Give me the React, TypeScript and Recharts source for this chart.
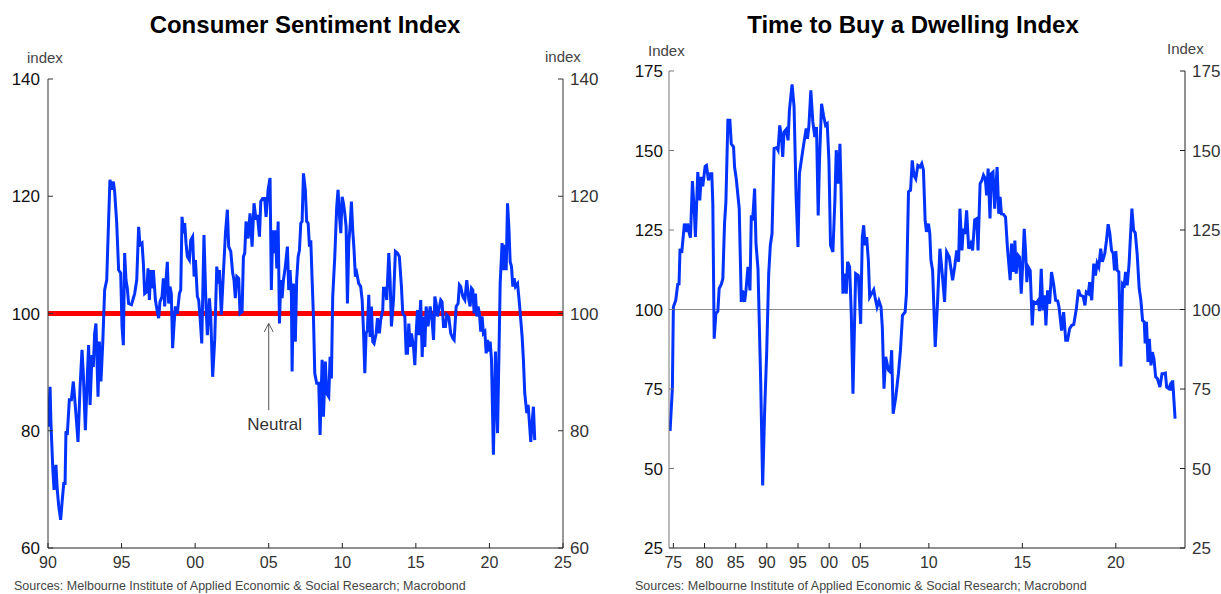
import React from 'react';
import { LineChart, Line, XAxis, YAxis, ReferenceLine } from 'recharts';

const FONT = '"Liberation Sans", Arial, Helvetica, sans-serif';
const BLUE = '#0033ff';

// Consumer sentiment index, [year, index]
const sentiment: [number, number][] = [
  [1990.02, 80.7], [1990.14, 87.5], [1990.2, 81.3], [1990.32, 73.9], [1990.41, 69.9], [1990.54, 74.2],
  [1990.63, 69.9], [1990.73, 67.1], [1990.86, 64.8], [1990.97, 68.2], [1991.07, 71], [1991.16, 71],
  [1991.22, 79.9], [1991.31, 79.3], [1991.45, 85.3], [1991.59, 85.3], [1991.72, 88.4], [1991.86, 84.1],
  [1992.04, 78.1], [1992.18, 87.5], [1992.31, 93.8], [1992.4, 89.8], [1992.54, 80.1], [1992.67, 89.2],
  [1992.76, 94.6], [1992.86, 84.4], [1992.99, 92.9], [1993.08, 90.9], [1993.17, 96.6], [1993.26, 98.3],
  [1993.4, 85.8], [1993.49, 95.2], [1993.6, 88.4], [1993.72, 94.9], [1993.85, 104], [1993.99, 105.7],
  [1994.12, 116], [1994.21, 122.8], [1994.33, 121.1], [1994.44, 122.5], [1994.53, 120.8], [1994.67, 115.4],
  [1994.8, 107.4], [1994.94, 106.9], [1995.03, 97.8], [1995.12, 94.6], [1995.21, 110.3], [1995.3, 105.7],
  [1995.39, 104.3], [1995.48, 101.7], [1995.67, 101.5], [1995.8, 102.6], [1995.89, 103.4], [1996.03, 105.7],
  [1996.16, 114.8], [1996.25, 111.7], [1996.39, 112], [1996.48, 108.6], [1996.57, 103.4], [1996.71, 103.7],
  [1996.8, 107.7], [1996.89, 102.3], [1996.98, 107.4], [1997.07, 104.3], [1997.16, 107.4], [1997.3, 102.3],
  [1997.43, 100.3], [1997.52, 99.2], [1997.61, 102], [1997.75, 102.9], [1997.84, 106], [1997.93, 101.2],
  [1998.02, 105.7], [1998.11, 108.8], [1998.2, 101.7], [1998.29, 104.6], [1998.38, 103.4], [1998.47, 94.1],
  [1998.57, 98.3], [1998.66, 101.2], [1998.79, 100], [1998.93, 103.4], [1999.02, 104], [1999.11, 116.5],
  [1999.2, 113.7], [1999.29, 115.4], [1999.38, 112], [1999.47, 109.7], [1999.61, 109.1], [1999.7, 112.5],
  [1999.83, 113.1], [1999.93, 106.3], [2000.02, 109.1], [2000.15, 102.9], [2000.24, 102.3], [2000.33, 99.5],
  [2000.45, 94.9], [2000.6, 113.4], [2000.74, 101.2], [2000.83, 96.3], [2000.97, 102.6], [2001.06, 99.4],
  [2001.19, 89.2], [2001.33, 95.5], [2001.47, 108], [2001.56, 105.1], [2001.65, 107.4], [2001.78, 99.8],
  [2001.92, 106.9], [2002.06, 113.7], [2002.19, 117.7], [2002.28, 111.4], [2002.42, 110.6], [2002.55, 106.9],
  [2002.64, 105.7], [2002.73, 102.6], [2002.83, 106.3], [2002.96, 106], [2003.05, 100], [2003.19, 100.3],
  [2003.28, 109.7], [2003.37, 110.3], [2003.46, 115.7], [2003.6, 112.8], [2003.73, 117.1], [2003.87, 111.4],
  [2004.0, 118.8], [2004.14, 116], [2004.23, 116.8], [2004.37, 113.1], [2004.46, 119.1], [2004.59, 119.6],
  [2004.73, 119.6], [2004.82, 116.5], [2004.96, 121.1], [2005.09, 123.1], [2005.18, 104], [2005.27, 114.2],
  [2005.36, 110.3], [2005.45, 114.2], [2005.55, 107.7], [2005.64, 115.7], [2005.73, 98.3], [2005.82, 105.7],
  [2005.91, 102.6], [2006.0, 105.7], [2006.13, 108], [2006.27, 111.4], [2006.36, 104], [2006.45, 107.4],
  [2006.54, 103.4], [2006.59, 90.1], [2006.68, 105.1], [2006.81, 95.2], [2006.9, 105.7], [2007.0, 109.7],
  [2007.09, 110.8], [2007.18, 115.4], [2007.27, 115.7], [2007.36, 123.9], [2007.49, 121.1], [2007.58, 115.7],
  [2007.68, 115.4], [2007.77, 111.4], [2007.86, 112.5], [2007.95, 105.7], [2008.04, 99.5], [2008.13, 89.8],
  [2008.26, 88.1], [2008.4, 88.1], [2008.49, 79.3], [2008.63, 92.1], [2008.72, 82.4], [2008.85, 91.8],
  [2008.94, 86.4], [2009.08, 85.8], [2009.17, 92.6], [2009.26, 88.9], [2009.35, 102.9], [2009.49, 109.7],
  [2009.62, 118.2], [2009.71, 121.1], [2009.81, 116.5], [2009.9, 113.7], [2009.99, 119.9], [2010.08, 118.8],
  [2010.17, 117.1], [2010.26, 114.8], [2010.35, 101.7], [2010.44, 112], [2010.53, 114.8], [2010.62, 119.1],
  [2010.71, 114.2], [2010.8, 110.8], [2010.89, 106.3], [2010.98, 106.9], [2011.12, 105.1], [2011.25, 104.6],
  [2011.35, 102.3], [2011.44, 97.2], [2011.53, 89.8], [2011.62, 96.6], [2011.71, 97.2], [2011.8, 103.2],
  [2011.89, 96], [2011.98, 101.2], [2012.07, 95.2], [2012.16, 94.9], [2012.3, 96.6], [2012.39, 99.2],
  [2012.52, 96.6], [2012.61, 98.9], [2012.75, 100.6], [2012.8, 104.3], [2012.93, 104.3], [2013.02, 102.3],
  [2013.16, 110.3], [2013.25, 105.7], [2013.34, 97.8], [2013.48, 102.3], [2013.61, 110.6], [2013.75, 110.3],
  [2013.88, 109.7], [2014.02, 104.6], [2014.11, 100], [2014.25, 99.5], [2014.34, 93.2], [2014.43, 93.2],
  [2014.52, 98.3], [2014.61, 94.3], [2014.7, 96.6], [2014.84, 94.3], [2014.93, 91.2], [2015.02, 96.6],
  [2015.11, 100.6], [2015.2, 96.3], [2015.33, 102.3], [2015.43, 92.6], [2015.52, 99.5], [2015.61, 94.3],
  [2015.7, 101.2], [2015.83, 97.8], [2015.97, 101.2], [2016.1, 98.9], [2016.2, 95.5], [2016.29, 102.9],
  [2016.38, 101.7], [2016.47, 99.5], [2016.56, 100.6], [2016.69, 102.3], [2016.78, 102], [2016.88, 97.8],
  [2017.01, 97.8], [2017.1, 99.8], [2017.24, 99.4], [2017.37, 96.6], [2017.51, 95.8], [2017.6, 95.5],
  [2017.74, 101.2], [2017.87, 101.7], [2017.96, 104.9], [2018.05, 104.6], [2018.19, 102.9], [2018.33, 102.3],
  [2018.46, 105.7], [2018.6, 102.3], [2018.69, 101.2], [2018.78, 104.3], [2018.87, 104], [2018.96, 100],
  [2019.05, 103.4], [2019.14, 99.5], [2019.23, 101.2], [2019.32, 100], [2019.41, 96.9], [2019.5, 99.5],
  [2019.59, 96.6], [2019.69, 96.9], [2019.78, 93.2], [2019.87, 95.5], [2019.96, 93.5], [2020.05, 95.2],
  [2020.14, 92.1], [2020.27, 75.9], [2020.41, 93.5], [2020.55, 79.6], [2020.64, 92.1], [2020.73, 105.1],
  [2020.86, 112], [2020.95, 107.4], [2021.05, 111.7], [2021.14, 107.4], [2021.23, 118.8], [2021.32, 114.8],
  [2021.41, 108.8], [2021.5, 108], [2021.59, 104.6], [2021.68, 106], [2021.77, 104.6], [2021.91, 105.1],
  [2022.04, 101.7], [2022.13, 98.9], [2022.22, 96.1], [2022.31, 92.1], [2022.4, 86.4], [2022.54, 83],
  [2022.63, 84.4], [2022.72, 81.3], [2022.81, 78.1], [2022.9, 81.3], [2022.99, 84.1], [2023.08, 78.4],
];

const sentimentYears = [1990, 1995, 2000, 2005, 2010, 2015, 2020, 2025];
const sentimentTicks = [60, 80, 100, 120, 140];
const NEUTRAL = 100;

// Time to buy a dwelling, [year, index]; quarterly to end-2006, monthly after
const dwelling: [number, number][] = [
  [1974.47, 61.8], [1974.84, 75.1], [1975.0, 100.8], [1975.38, 102.9], [1975.7, 107.9], [1975.91, 108],
  [1976.07, 119.1], [1976.34, 117.8], [1976.77, 127], [1977.04, 124.4], [1977.26, 127], [1977.58, 123.8],
  [1977.74, 122.6], [1978.06, 140.4], [1978.38, 130.1], [1978.54, 122.8], [1978.92, 143.2], [1979.24, 134.3],
  [1979.46, 141.7], [1979.72, 138.7], [1980.1, 145], [1980.31, 145.3], [1980.64, 140.6], [1980.96, 142.7],
  [1981.17, 142.7], [1981.33, 133.3], [1981.55, 90.8], [1981.82, 98.7], [1982.14, 99.5], [1982.35, 106.6],
  [1982.68, 107.9], [1982.94, 109.7], [1983.21, 127], [1983.43, 133.8], [1983.75, 159.5], [1984.07, 159.5],
  [1984.29, 152.1], [1984.66, 151.1], [1984.82, 144.8], [1985.09, 141.1], [1985.57, 131.7], [1985.9, 102.4],
  [1986.11, 106], [1986.43, 102.4], [1986.65, 106], [1986.97, 113.4], [1987.29, 106], [1987.51, 129.6],
  [1987.72, 128], [1988.04, 138], [1988.26, 120.7], [1988.58, 112.8], [1989.01, 77.7], [1989.33, 44.7],
  [1989.65, 68.3], [1989.97, 86.1], [1990.3, 111.3], [1990.56, 120.2], [1990.83, 123.8], [1991.16, 150.6],
  [1991.58, 150.9], [1991.8, 150.1], [1992.07, 157.9], [1992.34, 154.2], [1992.55, 148], [1992.76, 155.8],
  [1993.09, 156.6], [1993.41, 153.2], [1993.62, 162.6], [1994.05, 170.8], [1994.37, 163.7], [1994.7, 135.4],
  [1995.0, 119.7], [1995.23, 142.7], [1995.77, 150.1], [1996.31, 156.9], [1996.52, 153.7], [1996.74, 157.4],
  [1997.06, 168.9], [1997.38, 159], [1997.7, 154.2], [1997.97, 157.4], [1998.24, 129.6], [1998.45, 146.9],
  [1998.78, 164.7], [1999.1, 161], [1999.42, 157.9], [1999.69, 158.4], [1999.96, 146.9], [2000.22, 120.2],
  [2000.6, 118.1], [2000.92, 134.3], [2001.14, 150.1], [2001.46, 139.6], [2001.73, 152.1], [2001.89, 139.6],
  [2002.21, 105], [2002.53, 111.3], [2002.75, 105], [2002.96, 115], [2003.28, 113.4], [2003.55, 98.7],
  [2003.82, 73.5], [2004.25, 111.3], [2004.68, 110.7], [2005.05, 95.5], [2005.32, 122.8], [2005.54, 126.5],
  [2005.75, 120.2], [2006.02, 122.8], [2006.29, 115.5], [2006.5, 103.9], [2006.82, 105],
  [2007.05, 106.2], [2007.12, 103.9], [2007.23, 100.8], [2007.33, 102.7], [2007.44, 100.8], [2007.51, 94.5],
  [2007.6, 75.1], [2007.69, 85.1], [2007.84, 80.9], [2007.94, 80.3], [2008.01, 87.2], [2008.09, 67.2],
  [2008.23, 72.5], [2008.37, 79.8], [2008.48, 87.2], [2008.59, 98.2], [2008.73, 99.2], [2008.8, 105],
  [2008.91, 137], [2009.02, 137.5], [2009.11, 146.9], [2009.2, 142.2], [2009.3, 141.1], [2009.41, 145.3],
  [2009.52, 144.8], [2009.62, 145.9], [2009.71, 143.8], [2009.8, 128], [2009.87, 124.4], [2009.98, 127],
  [2010.05, 123.8], [2010.11, 115.5], [2010.2, 112.3], [2010.34, 88.2], [2010.46, 101.8], [2010.59, 119.1],
  [2010.7, 112.3], [2010.84, 102.4], [2010.95, 118.1], [2011.09, 116.5], [2011.27, 109.2], [2011.38, 113.4],
  [2011.49, 118.6], [2011.59, 115], [2011.66, 131.7], [2011.77, 118.6], [2011.84, 125.4], [2011.93, 123.8],
  [2012.02, 131.2], [2012.13, 119.1], [2012.24, 120.7], [2012.34, 118.6], [2012.45, 128.2], [2012.56, 128.6],
  [2012.63, 118.6], [2012.74, 139.6], [2012.84, 140.6], [2012.92, 142.2], [2013.02, 141.1], [2013.09, 135.9],
  [2013.17, 144.3], [2013.27, 128.6], [2013.34, 142.7], [2013.43, 143.2], [2013.52, 131.7], [2013.65, 144.8],
  [2013.74, 130.1], [2013.81, 135.4], [2013.88, 130.1], [2013.99, 129.9], [2014.1, 129.1], [2014.2, 119.7],
  [2014.35, 109.2], [2014.42, 120.7], [2014.53, 111.8], [2014.6, 121.7], [2014.67, 111.3], [2014.78, 117],
  [2014.85, 116.5], [2014.94, 105], [2015.03, 115.5], [2015.1, 125.4], [2015.17, 118.6], [2015.24, 108.6],
  [2015.31, 113.4], [2015.42, 112.3], [2015.53, 95], [2015.6, 102.4], [2015.74, 102], [2015.85, 102.9],
  [2015.92, 99.5], [2016.01, 112.8], [2016.1, 99.7], [2016.19, 104.5], [2016.26, 95], [2016.35, 106],
  [2016.46, 101.8], [2016.56, 111.8], [2016.67, 108.1], [2016.78, 102.9], [2016.89, 102.7], [2016.96, 100.8],
  [2017.1, 93.4], [2017.21, 99.2], [2017.32, 90.3], [2017.42, 90.3], [2017.53, 94], [2017.64, 95],
  [2017.75, 95.3], [2017.89, 100.3], [2018.0, 106.2], [2018.1, 104.5], [2018.25, 104.1], [2018.35, 101.3],
  [2018.42, 105.5], [2018.53, 105], [2018.6, 108.6], [2018.71, 102.9], [2018.82, 114.4], [2018.91, 110.7],
  [2019.0, 114.6], [2019.09, 113.4], [2019.19, 119.1], [2019.28, 115], [2019.41, 117.6], [2019.5, 121.7],
  [2019.59, 126.8], [2019.68, 123.8], [2019.77, 118.6], [2019.86, 117.6], [2019.93, 112.3], [2020.0, 118.4],
  [2020.07, 112.3], [2020.16, 111.8], [2020.27, 82.1], [2020.36, 108.1], [2020.45, 107.6], [2020.52, 111.8],
  [2020.61, 107.6], [2020.71, 114.4], [2020.79, 123.8], [2020.86, 131.7], [2020.95, 124.9], [2021.04, 124.1],
  [2021.14, 117.6], [2021.25, 106.6], [2021.34, 102.9], [2021.43, 96.6], [2021.52, 96.1], [2021.57, 89.3],
  [2021.64, 96.1], [2021.72, 83.5], [2021.79, 90.8], [2021.88, 82.4], [2021.95, 86.6], [2022.04, 84.5],
  [2022.13, 78.8], [2022.23, 78.2], [2022.36, 75.6], [2022.47, 79.8], [2022.57, 79.8], [2022.65, 80],
  [2022.72, 75.6], [2022.83, 75.1], [2022.9, 76.1], [2022.97, 74.6], [2023.04, 77.7], [2023.17, 65.7],
];

const dwellingYears = [1975, 1980, 1985, 1990, 1995, 2000, 2005, 2010, 2015, 2020];
const dwellingTicks = [25, 50, 75, 100, 125, 150, 175];

// the dwelling chart plots one slot per observation: quarters to 2006, months from 2007
const obsIndex = (year: number) => (year < 2007 ? (year - 1975) * 4 + 1 : 129 + (year - 2007) * 12);

const yy = (y: number) => String(Math.round(y)).slice(2);

const NeutralArrow = (props: any) => {
  const { x1, y1, y2 } = props;
  const top = Math.min(y1, y2);
  const bottom = Math.max(y1, y2);
  return (
    <g>
      <line x1={x1} y1={bottom} x2={x1} y2={top} stroke="#555" strokeWidth={1} />
      <polyline
        points={`${x1 - 4.5},${top + 8.5} ${x1},${top} ${x1 + 4.5},${top + 8.5}`}
        fill="none"
        stroke="#555"
        strokeWidth={1}
      />
      <text x={x1 + 6} y={bottom + 20} textAnchor="middle" fontSize={17} fill="#333" fontFamily={FONT}>
        Neutral
      </text>
    </g>
  );
};

const SentimentChart = () => {
  const data = sentiment.map(([year, value]) => ({ year, value }));
  return (
    <LineChart width={620} height={594} data={data} margin={{ top: 79, right: 17, bottom: 16, left: 8 }} style={{ fontFamily: FONT }}>
      <XAxis
        type="number"
        dataKey="year"
        domain={[1990, 2025]}
        ticks={sentimentYears}
        tickFormatter={yy}
        allowDataOverflow
        height={30}
        tickSize={-5}
        tickMargin={14}
        axisLine={{ stroke: '#222' }}
        tickLine={{ stroke: '#222' }}
        tick={{ fill: '#333', fontSize: 16 }}
      />
      <YAxis
        yAxisId="l"
        domain={[60, 140]}
        ticks={sentimentTicks}
        allowDataOverflow
        width={40}
        tickSize={-5}
        tickMargin={13}
        axisLine={{ stroke: '#333' }}
        tickLine={{ stroke: '#333' }}
        tick={{ fill: '#111', fontSize: 17 }}
      />
      <YAxis
        yAxisId="r"
        orientation="right"
        domain={[60, 140]}
        ticks={sentimentTicks}
        allowDataOverflow
        width={40}
        tickSize={-5}
        tickMargin={12}
        axisLine={{ stroke: '#333' }}
        tickLine={{ stroke: '#333' }}
        tick={{ fill: '#333', fontSize: 17 }}
      />
      <ReferenceLine yAxisId="l" y={NEUTRAL} stroke="#ff0000" strokeWidth={5} />
      <Line yAxisId="l" type="linear" dataKey="value" stroke={BLUE} strokeWidth={3} dot={false} isAnimationActive={false} />
      <ReferenceLine
        yAxisId="l"
        segment={[{ x: 2005, y: 83.5 }, { x: 2005, y: 98.3 }]}
        shape={NeutralArrow}
      />
    </LineChart>
  );
};

const DwellingChart = () => {
  const data = dwelling.map(([year, value]) => ({ obs: obsIndex(year), value }));
  const tickObs = dwellingYears.map(obsIndex);
  const label = (v: number) => {
    const i = tickObs.findIndex((t) => Math.abs(t - v) < 0.01);
    return i >= 0 ? yy(dwellingYears[i]) : '';
  };
  return (
    <LineChart width={611} height={594} data={data} margin={{ top: 71, right: 6, bottom: 16, left: 19 }} style={{ fontFamily: FONT }}>
      <XAxis
        type="number"
        dataKey="obs"
        domain={[-1.8, 329.4]}
        ticks={tickObs}
        tickFormatter={label}
        allowDataOverflow
        height={30}
        tickSize={-5}
        tickMargin={14}
        axisLine={{ stroke: '#222' }}
        tickLine={{ stroke: '#222' }}
        tick={{ fill: '#333', fontSize: 16 }}
      />
      <YAxis
        yAxisId="l"
        domain={[25, 175]}
        ticks={dwellingTicks}
        allowDataOverflow
        width={40}
        tickSize={-5}
        tickMargin={11}
        axisLine={{ stroke: '#777' }}
        tickLine={{ stroke: '#777' }}
        tick={{ fill: '#111', fontSize: 17 }}
      />
      <YAxis
        yAxisId="r"
        orientation="right"
        domain={[25, 175]}
        ticks={dwellingTicks}
        allowDataOverflow
        width={30}
        tickSize={-5}
        tickMargin={12}
        axisLine={{ stroke: '#222' }}
        tickLine={{ stroke: '#222' }}
        tick={{ fill: '#333', fontSize: 17 }}
      />
      <ReferenceLine yAxisId="l" y={NEUTRAL} stroke="#8c8c8c" strokeWidth={1} />
      <Line yAxisId="l" type="linear" dataKey="value" stroke={BLUE} strokeWidth={3} dot={false} isAnimationActive={false} />
    </LineChart>
  );
};

const abs = (s: React.CSSProperties): React.CSSProperties => ({ position: 'absolute', whiteSpace: 'nowrap', ...s });
const title: React.CSSProperties = { top: 13, fontSize: 24, lineHeight: '24px', fontWeight: 700, color: '#000', textAlign: 'center' };
const unit: React.CSSProperties = { fontSize: 15, lineHeight: '15px', color: '#444' };
const source: React.CSSProperties = { top: 580, fontSize: 12.5, lineHeight: '13px', color: '#444' };

export default function App() {
  return (
    <div style={{ position: 'absolute', left: 0, top: 0, width: 1221, height: 594, background: '#fff', fontFamily: FONT, overflow: 'hidden' }}>
      <div style={abs({ left: 0, top: 0 })}>
        <SentimentChart />
      </div>
      <div style={abs({ left: 610, top: 0 })}>
        <DwellingChart />
      </div>

      <div style={abs({ ...title, left: 0, width: 610 })}>Consumer Sentiment Index</div>
      <div style={abs({ ...title, left: 610, width: 606 })}>Time to Buy a Dwelling Index</div>

      <div style={abs({ ...unit, left: 27, top: 50 })}>index</div>
      <div style={abs({ ...unit, left: 545, top: 49 })}>index</div>
      <div style={abs({ ...unit, left: 648, top: 43 })}>Index</div>
      <div style={abs({ ...unit, left: 1167, top: 41 })}>Index</div>

      <div style={abs({ ...source, left: 14 })}>Sources: Melbourne Institute of Applied Economic &amp; Social Research; Macrobond</div>
      <div style={abs({ ...source, left: 635 })}>Sources: Melbourne Institute of Applied Economic &amp; Social Research; Macrobond</div>
    </div>
  );
}
